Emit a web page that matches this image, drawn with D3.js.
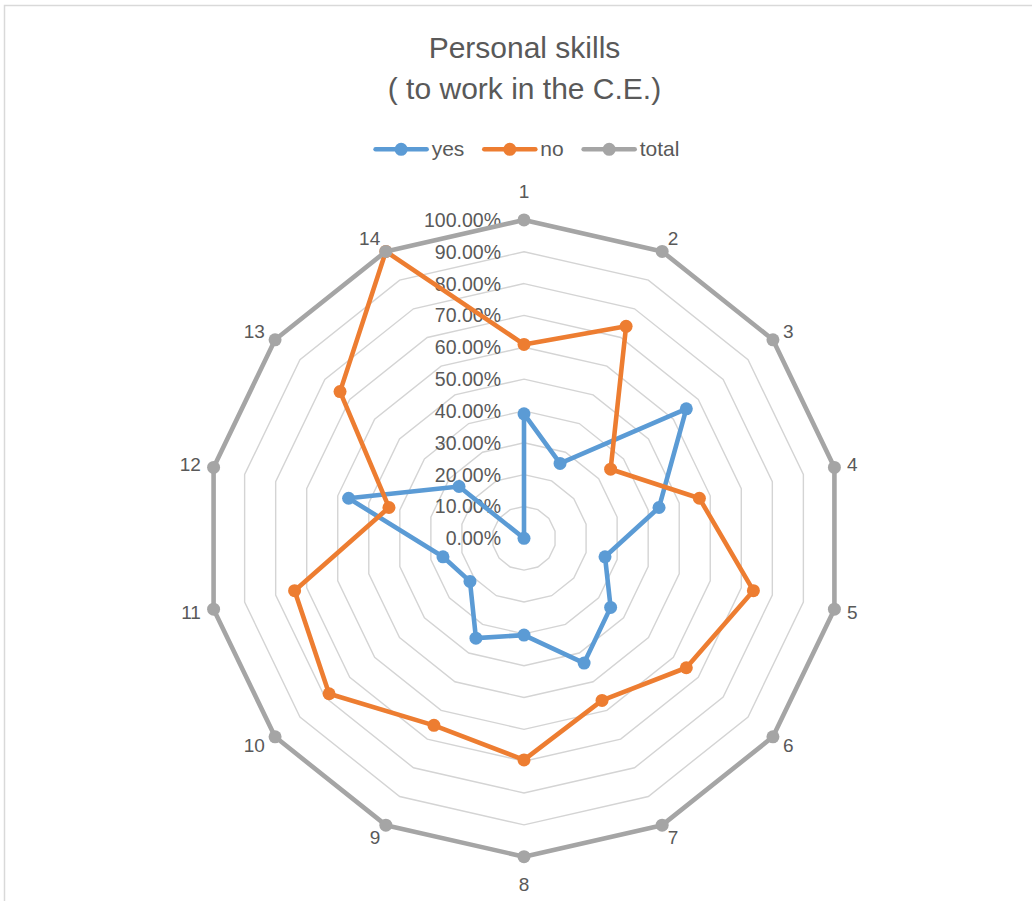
<!DOCTYPE html>
<html>
<head>
<meta charset="utf-8">
<script src="https://cdn.jsdelivr.net/npm/d3@7"></script>
<style>
  body { margin: 0; background: #fff; }
  svg { display: block; font-family: "Liberation Sans", Arial, sans-serif; }
</style>
</head>
<body>
<svg id="chart" width="1032" height="901"></svg>
<script>
// data
var categories = ["1", "2", "3", "4", "5", "6", "7", "8", "9", "10", "11", "12", "13", "14"];
var yesValues = [0.391, 0.261, 0.652, 0.435, 0.261, 0.348, 0.435, 0.304, 0.348, 0.217, 0.261, 0.565, 0.261, 0];
var noValues = [0.609, 0.739, 0.348, 0.565, 0.739, 0.652, 0.565, 0.696, 0.652, 0.783, 0.739, 0.435, 0.739, 1];
var totalValues = [1, 1, 1, 1, 1, 1, 1, 1, 1, 1, 1, 1, 1, 1];
var tickValues = [0, 0.1, 0.2, 0.3, 0.4, 0.5, 0.6, 0.7, 0.8, 0.9, 1];
var seriesNames = ["yes", "no", "total"];
var seriesColors = ["#5B9BD5", "#ED7D31", "#A5A5A5"];

var svg = d3.select("svg"),
  width = 1032,
  height = 901,
  cx = 524,
  cy = 538.3,
  R = 318.4;

var textColor = "#595959";

// chart area border (runs off the right and bottom edges)
svg.append("rect")
  .attr("x", 4.5)
  .attr("y", 5.5)
  .attr("width", 1100)
  .attr("height", 1000)
  .attr("fill", "none")
  .attr("stroke", "#d9d9d9")
  .attr("stroke-width", 1.5);

var r = d3.scaleLinear().domain([0, 1]).range([0, R]);
var angle = d3.scaleLinear().domain([0, categories.length]).range([0, 2 * Math.PI]);

var g = svg.append("g").attr("transform", "translate(" + cx + "," + cy + ")");

// grid rings
var ring = d3.lineRadial()
  .angle(function (d, i) { return angle(i); })
  .radius(function (d) { return r(d); })
  .curve(d3.curveLinearClosed);

g.append("g")
  .attr("class", "grid")
  .selectAll("path")
  .data(tickValues.filter(function (t) { return t > 0; }))
  .enter().append("path")
  .attr("d", function (t) { return ring(categories.map(function () { return t; })); })
  .attr("fill", "none")
  .attr("stroke", "#d4d4d4")
  .attr("stroke-width", 1.4);

// value labels along the first spoke
g.append("g")
  .attr("class", "ticks")
  .selectAll("text")
  .data(tickValues)
  .enter().append("text")
  .attr("x", -23)
  .attr("y", function (t) { return -r(t); })
  .attr("text-anchor", "end")
  .attr("dominant-baseline", "central")
  .attr("font-size", 19.5)
  .attr("fill", textColor)
  .text(function (t) { return d3.format(".2%")(t); });

// category labels
g.append("g")
  .attr("class", "cats")
  .selectAll("text")
  .data(categories)
  .enter().append("text")
  .attr("x", function (d, i) { return Math.sin(angle(i)) * (R + 13); })
  .attr("y", function (d, i) {
    var s = Math.sin(angle(i)), c = Math.cos(angle(i));
    var y = -c * (R + 10);
    if (Math.abs(s) < 0.05) return y - c * 18;
    return y - c * 4;
  })
  .attr("text-anchor", function (d, i) {
    var s = Math.sin(angle(i));
    if (s > 0.05) return "start";
    if (s < -0.05) return "end";
    return "middle";
  })
  .attr("dominant-baseline", "central")
  .attr("font-size", 19)
  .attr("fill", textColor)
  .text(function (d) { return d; });

// series
var allSeries = [yesValues, noValues, totalValues];
var line = d3.lineRadial()
  .angle(function (d, i) { return angle(i); })
  .radius(function (d) { return r(d); })
  .curve(d3.curveLinearClosed);

allSeries.forEach(function (vals, k) {
  var sg = g.append("g").attr("class", "series-" + seriesNames[k]);
  sg.append("path")
    .attr("d", line(vals))
    .attr("fill", "none")
    .attr("stroke", seriesColors[k])
    .attr("stroke-width", 4.6)
    .attr("stroke-linejoin", "round");
  sg.selectAll("circle")
    .data(vals)
    .enter().append("circle")
    .attr("cx", function (d, i) { return Math.sin(angle(i)) * r(d); })
    .attr("cy", function (d, i) { return -Math.cos(angle(i)) * r(d); })
    .attr("r", 6.5)
    .attr("fill", seriesColors[k]);
});

// title
var title = svg.append("text")
  .attr("text-anchor", "middle")
  .attr("font-size", 30)
  .attr("fill", textColor);
title.append("tspan").attr("x", 524.5).attr("y", 57.5).text("Personal skills");
title.append("tspan").attr("x", 524.5).attr("y", 98.5).text("( to work in the C.E.)");

// legend
var legend = svg.append("g").attr("class", "legend");
var lx = 0;
seriesNames.forEach(function (name, k) {
  var item = legend.append("g").attr("transform", "translate(" + lx + ",0)");
  item.append("line")
    .attr("x1", 0).attr("x2", 51)
    .attr("y1", 0).attr("y2", 0)
    .attr("stroke", seriesColors[k])
    .attr("stroke-width", 4.6)
    .attr("stroke-linecap", "round");
  item.append("circle")
    .attr("cx", 25.5).attr("cy", 0).attr("r", 6.5)
    .attr("fill", seriesColors[k]);
  var t = item.append("text")
    .attr("x", 56)
    .attr("y", 7)
    .attr("font-size", 21)
    .attr("fill", textColor)
    .text(name);
  lx += 56 + t.node().getComputedTextLength() + 20;
});
var legendWidth = lx - 20;
legend.attr("transform", "translate(" + (527.5 - legendWidth / 2) + ",149.3)");
</script>
</body>
</html>
